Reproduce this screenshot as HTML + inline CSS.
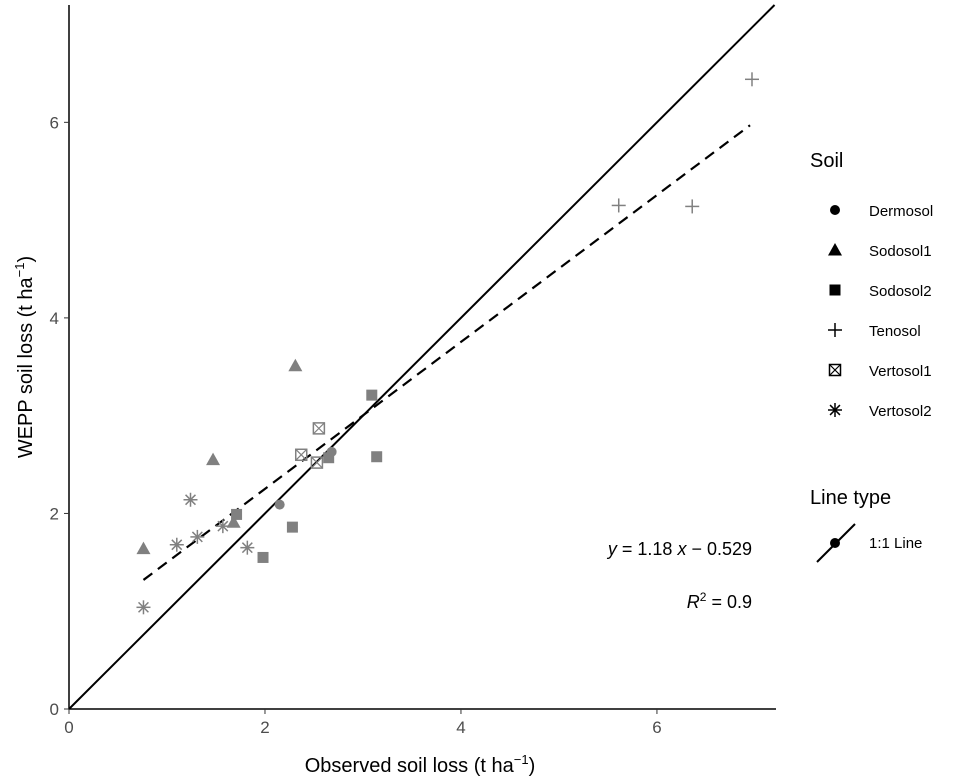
<!DOCTYPE html>
<html><head><meta charset="utf-8"><style>
body{margin:0;background:#fff}
svg{display:block;font-family:"Liberation Sans",Arial,sans-serif}
</style></head><body>
<svg id="chart" width="959" height="783" xmlns="http://www.w3.org/2000/svg">
<g id="plot"></g>
<g id="axes"></g>
<text x="752" y="555" text-anchor="end" font-size="18" fill="#000"><tspan font-style="italic">y</tspan> = 1.18 <tspan font-style="italic">x</tspan> − 0.529</text>
<text x="752" y="608" text-anchor="end" font-size="18" fill="#000"><tspan font-style="italic">R</tspan><tspan dy="-7" font-size="12">2</tspan><tspan dy="7"> = 0.9</tspan></text>
<text x="420" y="772" text-anchor="middle" font-size="20" fill="#000">Observed soil loss (t ha<tspan dy="-8" font-size="13">−1</tspan><tspan dy="8">)</tspan></text>
<text transform="translate(32,357) rotate(-90)" text-anchor="middle" font-size="20" fill="#000">WEPP soil loss (t ha<tspan dy="-8" font-size="13">−1</tspan><tspan dy="8">)</tspan></text>
<g id="legend">
<text x="810" y="167" font-size="20" fill="#000">Soil</text>
<text x="810" y="504" font-size="20" fill="#000">Line type</text>
<line x1="817" y1="562" x2="855" y2="524" stroke="#000" stroke-width="2"/>
<circle cx="835" cy="543" r="5" fill="#000"/>
<text x="869" y="548" font-size="15" fill="#000">1:1 Line</text>
</g>
</svg>
<script>
const soilNames=["Dermosol","Sodosol1","Sodosol2","Tenosol","Vertosol1","Vertosol2"];
const ptSoil=[0,0,1,1,1,1,2,2,2,2,2,2,3,3,3,4,4,4,5,5,5,5,5,5];
const ptObs=[2.15,2.68,2.31,1.47,0.76,1.68,3.09,3.14,2.65,1.71,2.28,1.98,6.97,5.61,6.36,2.55,2.37,2.53,1.24,1.10,1.31,1.57,1.82,0.76];
const ptWepp=[2.09,2.63,3.51,2.55,1.64,1.91,3.21,2.58,2.57,1.99,1.86,1.55,6.44,5.15,5.14,2.87,2.60,2.52,2.14,1.68,1.76,1.87,1.65,1.04];
const fitX=[0.76,6.95];
const fitY=[1.32,5.97];
const xTicks=[0,2,4,6];
const yTicks=[0,2,4,6];
const NS="http://www.w3.org/2000/svg";
const X0=69,X1=776,Y0=709,Y1=5,XMAX=7.215,YMAX=7.2;
function sx(v){return X0+v/XMAX*(X1-X0);}
function sy(v){return Y0-v/YMAX*(Y0-Y1);}
function mk(tag,attrs,parent){const e=document.createElementNS(NS,tag);for(const k in attrs)e.setAttribute(k,attrs[k]);parent.appendChild(e);return e;}
const plot=document.getElementById('plot'),axes=document.getElementById('axes');
let l=mk('line',{x1:sx(0),y1:sy(0),x2:sx(7.2),y2:sy(7.2),stroke:'#000','stroke-width':2},plot);


let f=mk('line',{x1:sx(fitX[0]),y1:sy(fitY[0]),x2:sx(fitX[1]),y2:sy(fitY[1]),stroke:'#000','stroke-width':2.2,'stroke-dasharray':'11 7'},plot);


function symbol(type,cx,cy,parent,col){
  const g=mk('g',{},parent);
  if(type===0)mk('circle',{cx:cx,cy:cy,r:5,fill:col},g);
  else if(type===1)mk('polygon',{points:`${cx},${cy-7} ${cx+7},${cy+5.5} ${cx-7},${cy+5.5}`,fill:col},g);
  else if(type===2)mk('rect',{x:cx-5.5,y:cy-5.5,width:11,height:11,fill:col},g);
  else if(type===3){mk('line',{x1:cx-7,y1:cy,x2:cx+7,y2:cy,stroke:col,'stroke-width':1.5},g);mk('line',{x1:cx,y1:cy-7,x2:cx,y2:cy+7,stroke:col,'stroke-width':1.5},g);}
  else if(type===4){mk('rect',{x:cx-5.5,y:cy-5.5,width:11,height:11,fill:'none',stroke:col,'stroke-width':1.5},g);mk('path',{d:`M${cx-5} ${cy-5}L${cx+5} ${cy+5}M${cx+5} ${cy-5}L${cx-5} ${cy+5}`,stroke:col,'stroke-width':1.2},g);}
  else{for(const a of [0,45,90,135]){const r=a*Math.PI/180;mk('line',{x1:cx-7*Math.cos(r),y1:cy-7*Math.sin(r),x2:cx+7*Math.cos(r),y2:cy+7*Math.sin(r),stroke:col,'stroke-width':1.5},g);}}
  return g;
}
for(let i=0;i<ptObs.length;i++){
  const g=symbol(ptSoil[i],sx(ptObs[i]),sy(ptWepp[i]),plot,'#808080');
  
  
}
let a=mk('path',{d:`M${X0} ${Y1}V${Y0}H${X1}`,fill:'none',stroke:'#000','stroke-width':1.5},axes);


xTicks.forEach(v=>{
  const x=sx(v);
  mk('line',{x1:x,y1:Y0,x2:x,y2:Y0+5,stroke:'#333'},axes);
  const t=mk('text',{x:x,y:Y0+24,'text-anchor':'middle','font-size':17,fill:'#4d4d4d'},axes);t.textContent=v;
  
  
});
yTicks.forEach(v=>{
  const y=sy(v);
  mk('line',{x1:X0-5,y1:y,x2:X0,y2:y,stroke:'#333'},axes);
  const t=mk('text',{x:X0-10,y:y+6,'text-anchor':'end','font-size':17,fill:'#4d4d4d'},axes);t.textContent=v;
  
  
});
const leg=document.getElementById('legend');
soilNames.forEach((n,i)=>{
  const y=210+i*40;
  const g=symbol(i,835,y,leg,'#000');
  
  
  const t=mk('text',{x:869,y:y+6,'font-size':15,fill:'#000'},leg);t.textContent=n;
  
  
});
</script>
</body></html>
